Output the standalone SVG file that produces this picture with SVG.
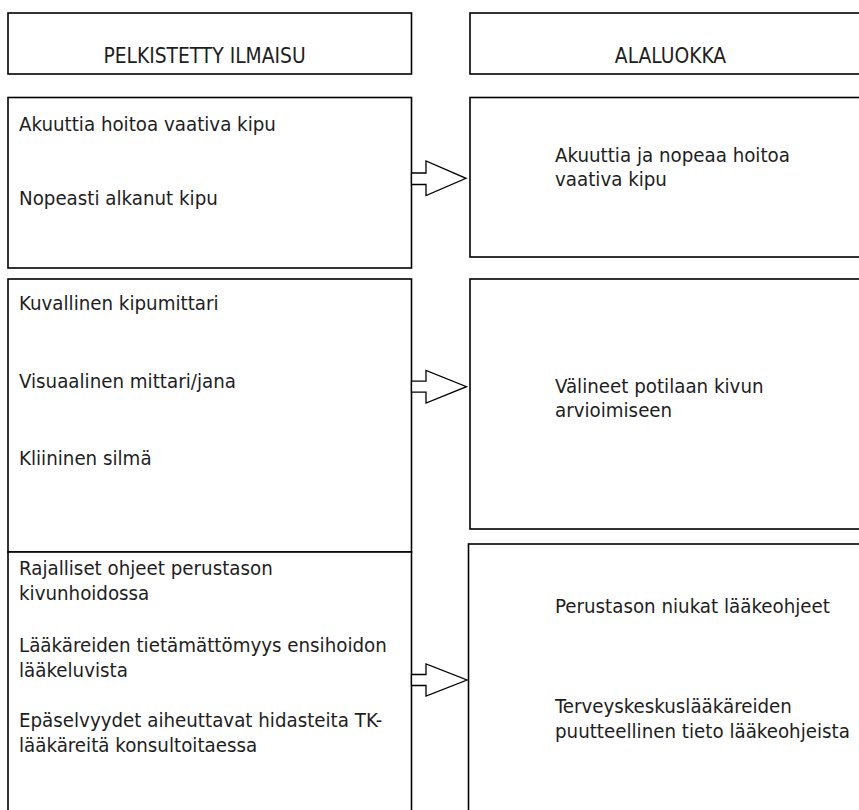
<svg xmlns="http://www.w3.org/2000/svg" width="859" height="810" viewBox="0 0 859 810">
  <style>
    .box { fill: #ffffff; stroke: #000000; stroke-width: 1.6; }
    .arrow { fill: #ffffff; stroke: #000000; stroke-width: 1.3; stroke-linejoin: miter; }
    text { font-family: "DejaVu Sans Condensed", "DejaVu Sans", "Liberation Sans", sans-serif; font-stretch: condensed; font-size: 20.3px; fill: #1e1e1e; }
    .hdr { text-anchor: middle; font-size: 20.8px; }
  </style>
  <rect width="859" height="810" fill="#ffffff"/>

  <g id="header-left">
    <rect class="box" x="8" y="13" width="403.5" height="61"/>
    <text class="hdr" x="204.5" y="63">PELKISTETTY ILMAISU</text>
  </g>
  <g id="header-right">
    <rect class="box" x="470" y="13" width="420" height="61"/>
    <text class="hdr" x="670.5" y="63">ALALUOKKA</text>
  </g>

  <g id="left-1">
    <rect class="box" x="8" y="97.5" width="403.5" height="170.5"/>
    <text x="19" y="131">Akuuttia hoitoa vaativa kipu</text>
    <text x="19" y="205">Nopeasti alkanut kipu</text>
  </g>
  <g id="right-1">
    <rect class="box" x="470" y="97.5" width="420" height="159.5"/>
    <text x="555" y="162">Akuuttia ja nopeaa hoitoa</text>
    <text x="555" y="186">vaativa kipu</text>
  </g>

  <g id="left-2">
    <rect class="box" x="8" y="279" width="403.5" height="273"/>
    <text x="19" y="310">Kuvallinen kipumittari</text>
    <text x="19" y="388">Visuaalinen mittari/jana</text>
    <text x="19" y="465">Kliininen silmä</text>
  </g>
  <g id="right-2">
    <rect class="box" x="470" y="279" width="420" height="250"/>
    <text x="555" y="393">Välineet potilaan kivun</text>
    <text x="555" y="417">arvioimiseen</text>
  </g>

  <g id="left-3">
    <rect class="box" x="8" y="552" width="403.5" height="300"/>
    <text x="19" y="575">Rajalliset ohjeet perustason</text>
    <text x="19" y="600">kivunhoidossa</text>
    <text x="19" y="651.5">Lääkäreiden tietämättömyys ensihoidon</text>
    <text x="19" y="676.5">lääkeluvista</text>
    <text x="19" y="726.5">Epäselvyydet aiheuttavat hidasteita TK-</text>
    <text x="19" y="751.5">lääkäreitä konsultoitaessa</text>
  </g>
  <g id="right-3">
    <rect class="box" x="468.5" y="544" width="420" height="300"/>
    <text x="555" y="613">Perustason niukat lääkeohjeet</text>
    <text x="555" y="713">Terveyskeskuslääkäreiden</text>
    <text x="555" y="738">puutteellinen tieto lääkeohjeista</text>
  </g>

  <g id="connectors">
    <polygon class="arrow" points="411.5,173 426,173 426,161 466,178.3 426,195.5 426,184.5 411.5,184.5"/>
    <polygon class="arrow" points="411.5,381.2 426,381.2 426,370.5 466.5,386.7 426,403 426,392.2 411.5,392.2"/>
    <polygon class="arrow" points="411.5,674.5 426,674.5 426,664 467,680 426,696 426,685.5 411.5,685.5"/>
  </g>
</svg>
